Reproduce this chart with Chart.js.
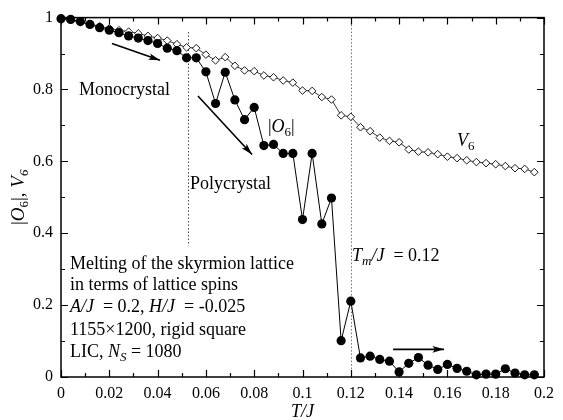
<!DOCTYPE html>
<html>
<head>
<meta charset="utf-8">
<script src="https://cdn.jsdelivr.net/npm/chart.js@4.4.1/dist/chart.umd.min.js"></script>
<style>
  html, body { margin: 0; padding: 0; background: #fff; }
  #wrap { width: 563px; height: 420px; }
</style>
</head>
<body>
<div id="wrap"><canvas id="chart" width="563" height="420"></canvas></div>
<script>
// temperature T/J
const tempValues = [0, 0.004, 0.008, 0.012, 0.016, 0.02, 0.024, 0.028, 0.032, 0.036,
  0.04, 0.044, 0.048, 0.052, 0.056, 0.06, 0.064, 0.068, 0.072, 0.076,
  0.08, 0.084, 0.088, 0.092, 0.096, 0.1, 0.104, 0.108, 0.112, 0.116,
  0.12, 0.124, 0.128, 0.132, 0.136, 0.14, 0.144, 0.148, 0.152, 0.156,
  0.16, 0.164, 0.168, 0.172, 0.176, 0.18, 0.184, 0.188, 0.192, 0.196];

// |O6| (filled circles)
const o6Values = [0.997, 0.995, 0.989, 0.981, 0.972, 0.965, 0.958, 0.949, 0.943, 0.936,
  0.928, 0.915, 0.908, 0.888, 0.888, 0.849, 0.761, 0.848, 0.771, 0.716,
  0.750, 0.644, 0.647, 0.622, 0.622, 0.438, 0.622, 0.426, 0.498, 0.101,
  0.211, 0.053, 0.058, 0.049, 0.044, 0.014, 0.038, 0.054, 0.033, 0.021,
  0.035, 0.024, 0.016, 0.006, 0.008, 0.008, 0.023, 0.011, 0.006, 0.006];

// V6 (open diamonds)
const v6Values = [0.998, 0.993, 0.987, 0.982, 0.976, 0.970, 0.965, 0.961, 0.956, 0.949,
  0.943, 0.936, 0.926, 0.917, 0.915, 0.897, 0.881, 0.890, 0.866, 0.853,
  0.851, 0.839, 0.834, 0.825, 0.819, 0.797, 0.796, 0.779, 0.772, 0.728,
  0.724, 0.695, 0.684, 0.666, 0.657, 0.653, 0.633, 0.627, 0.625, 0.620,
  0.613, 0.609, 0.603, 0.598, 0.595, 0.592, 0.587, 0.581, 0.579, 0.570];

const xTickLabels = ['0', '0.02', '0.04', '0.06', '0.08', '0.1', '0.12', '0.14', '0.16', '0.18', '0.2'];
const yTickLabels = ['0', '0.2', '0.4', '0.6', '0.8', '1'];

const meltT = 0.12;
const splitT = 0.0526;

const SERIF = '"Liberation Serif", "Times New Roman", serif';

// draw a line of text made of styled pieces: n = normal, i = italic, s = subscript, is = italic subscript
function drawRich(ctx, x, y, parts, size) {
  ctx.textBaseline = 'middle';
  ctx.textAlign = 'left';
  let cx = x;
  parts.forEach(p => {
    const sub = p[1] === 's' || p[1] === 'is';
    const ital = p[1] === 'i' || p[1] === 'is';
    const fs = sub ? Math.round(size * 0.7) : size;
    ctx.font = (ital ? 'italic ' : '') + fs + 'px ' + SERIF;
    ctx.fillText(p[0], cx, sub ? y + size * 0.3 : y);
    cx += ctx.measureText(p[0]).width;
  });
  return cx - x;
}

function richWidth(ctx, parts, size) {
  let w = 0;
  parts.forEach(p => {
    const sub = p[1] === 's' || p[1] === 'is';
    const ital = p[1] === 'i' || p[1] === 'is';
    const fs = sub ? Math.round(size * 0.7) : size;
    ctx.font = (ital ? 'italic ' : '') + fs + 'px ' + SERIF;
    w += ctx.measureText(p[0]).width;
  });
  return w;
}

function arrow(ctx, x1, y1, x2, y2) {
  const a = Math.atan2(y2 - y1, x2 - x1);
  const len = 12, spread = 0.28;
  ctx.beginPath();
  ctx.moveTo(x1, y1);
  ctx.lineTo(x2, y2);
  ctx.stroke();
  ctx.beginPath();
  ctx.moveTo(x2, y2);
  ctx.lineTo(x2 - len * Math.cos(a - spread), y2 - len * Math.sin(a - spread));
  ctx.lineTo(x2 - len * 0.75 * Math.cos(a), y2 - len * 0.75 * Math.sin(a));
  ctx.lineTo(x2 - len * Math.cos(a + spread), y2 - len * Math.sin(a + spread));
  ctx.closePath();
  ctx.fill();
}

// dotted guide lines behind the data
const guides = {
  id: 'guides',
  beforeDatasetsDraw(chart) {
    const { ctx, scales: { x, y } } = chart;
    ctx.save();
    ctx.lineWidth = 1;
    ctx.setLineDash([1.5, 2]);
    ctx.strokeStyle = '#444';
    ctx.beginPath();
    ctx.moveTo(Math.round(x.getPixelForValue(splitT)) + 0.5, y.getPixelForValue(0.96));
    ctx.lineTo(Math.round(x.getPixelForValue(splitT)) + 0.5, y.getPixelForValue(0.365));
    ctx.stroke();
    ctx.strokeStyle = '#7a7a3a';
    ctx.beginPath();
    ctx.moveTo(Math.round(x.getPixelForValue(meltT)) + 0.5, y.getPixelForValue(1));
    ctx.lineTo(Math.round(x.getPixelForValue(meltT)) + 0.5, y.getPixelForValue(0));
    ctx.stroke();
    ctx.restore();
  }
};

// frame, inward ticks, labels and arrows
const frame = {
  id: 'frame',
  afterDraw(chart) {
    const { ctx, chartArea: a, scales: { x, y } } = chart;
    ctx.save();
    ctx.strokeStyle = '#000';
    ctx.fillStyle = '#000';
    ctx.lineWidth = 1.5;
    ctx.strokeRect(a.left, a.top, a.right - a.left, a.bottom - a.top);

    ctx.lineWidth = 1.2;
    const xt = x.ticks.map(t => t.value);
    const yt = y.ticks.map(t => t.value);
    const xs = [], ys = [];
    xt.forEach((v, i) => { xs.push([v, 7]); if (i < xt.length - 1) xs.push([(v + xt[i + 1]) / 2, 4]); });
    yt.forEach((v, i) => { ys.push([v, 7]); if (i < yt.length - 1) ys.push([(v + yt[i + 1]) / 2, 4]); });
    ctx.beginPath();
    xs.forEach(([v, L]) => {
      const px = Math.round(x.getPixelForValue(v)) + 0.5;
      ctx.moveTo(px, a.bottom); ctx.lineTo(px, a.bottom - L);
      ctx.moveTo(px, a.top); ctx.lineTo(px, a.top + L);
    });
    ys.forEach(([v, L]) => {
      const py = Math.round(y.getPixelForValue(v)) + 0.5;
      ctx.moveTo(a.left, py); ctx.lineTo(a.left + L, py);
      ctx.moveTo(a.right, py); ctx.lineTo(a.right - L, py);
    });
    ctx.stroke();

    // y axis title
    ctx.save();
    ctx.translate(19, (a.top + a.bottom) / 2);
    ctx.rotate(-Math.PI / 2);
    const yTitle = [['|', 'n'], ['O', 'i'], ['6', 's'], ['|, ', 'n'], ['V', 'i'], ['6', 'is']];
    drawRich(ctx, -richWidth(ctx, yTitle, 19) / 2, 0, yTitle, 19);
    ctx.restore();

    // arrows
    ctx.lineWidth = 1.6;
    arrow(ctx, x.getPixelForValue(0.0211), y.getPixelForValue(0.928), x.getPixelForValue(0.041), y.getPixelForValue(0.881));
    arrow(ctx, x.getPixelForValue(0.0567), y.getPixelForValue(0.782), x.getPixelForValue(0.0791), y.getPixelForValue(0.619));
    arrow(ctx, x.getPixelForValue(0.1375), y.getPixelForValue(0.077), x.getPixelForValue(0.1586), y.getPixelForValue(0.077));

    const fs = 18;
    const tx = v => x.getPixelForValue(v);
    const ty = v => y.getPixelForValue(v);
    drawRich(ctx, tx(0.0075), ty(0.798), [['Monocrystal', 'n']], fs);
    drawRich(ctx, tx(0.0534), ty(0.536), [['Polycrystal', 'n']], fs);
    drawRich(ctx, tx(0.0857), ty(0.696), [['|', 'n'], ['O', 'i'], ['6', 's'], ['|', 'n']], fs);
    drawRich(ctx, tx(0.164), ty(0.655), [['V', 'i'], ['6', 's']], fs);
    drawRich(ctx, tx(0.1205), ty(0.337), [['T', 'i'], ['m', 'is'], ['/J', 'i'], ['  = 0.12', 'n']], fs);

    const bx = tx(0.0037);
    drawRich(ctx, bx, ty(0.315), [['Melting of the skyrmion lattice', 'n']], fs);
    drawRich(ctx, bx, ty(0.254), [['in terms of lattice spins', 'n']], fs);
    drawRich(ctx, bx, ty(0.193), [['A/J', 'i'], ['  = 0.2, ', 'n'], ['H/J', 'i'], ['  = -0.025', 'n']], fs);
    drawRich(ctx, bx, ty(0.130), [['1155\u00d71200, rigid square', 'n']], fs);
    drawRich(ctx, bx, ty(0.069), [['LIC, ', 'n'], ['N', 'i'], ['S', 'is'], [' = 1080', 'n']], fs);
    ctx.restore();
  }
};

const ctx = document.getElementById('chart').getContext('2d');
new Chart(ctx, {
  type: 'line',
  data: {
    datasets: [
      {
        label: '|O6|',
        data: tempValues.map((t, i) => ({ x: t, y: o6Values[i] })),
        borderColor: '#000',
        borderWidth: 1,
        pointStyle: 'circle',
        pointRadius: 4.6,
        pointBackgroundColor: '#000',
        pointBorderColor: '#000',
        pointBorderWidth: 0,
        tension: 0,
        clip: false,
        order: 0
      },
      {
        label: 'V6',
        data: tempValues.map((t, i) => ({ x: t, y: v6Values[i] })),
        borderColor: '#000',
        borderWidth: 0.8,
        pointStyle: 'rectRot',
        pointRadius: 3.8,
        pointBackgroundColor: '#fff',
        pointBorderColor: '#000',
        pointBorderWidth: 0.9,
        tension: 0,
        clip: false,
        order: 1
      }
    ]
  },
  options: {
    responsive: false,
    animation: false,
    devicePixelRatio: 1,
    layout: { padding: { top: 15, right: 19, left: 0, bottom: 0 } },
    plugins: { legend: { display: false }, tooltip: { enabled: false } },
    scales: {
      x: {
        type: 'linear',
        min: 0,
        max: 0.2,
        afterFit: s => { s.height = 43; },
        grid: { display: false, drawTicks: false },
        border: { display: false },
        ticks: {
          stepSize: 0.02,
          padding: 7,
          maxRotation: 0,
          color: '#000',
          font: { family: SERIF, size: 16 },
          callback: v => xTickLabels[Math.round(v / 0.02)]
        },
        title: {
          display: true,
          text: 'T/J',
          color: '#000',
          padding: { top: 0, bottom: -3 },
          font: { family: SERIF, size: 18, style: 'italic' }
        }
      },
      y: {
        min: 0,
        max: 1,
        afterFit: s => { s.width = 61; },
        grid: { display: false, drawTicks: false },
        border: { display: false },
        ticks: {
          stepSize: 0.2,
          padding: 8,
          color: '#000',
          font: { family: SERIF, size: 16 },
          callback: v => yTickLabels[Math.round(v / 0.2)]
        }
      }
    }
  },
  plugins: [guides, frame]
});
</script>
</body>
</html>
